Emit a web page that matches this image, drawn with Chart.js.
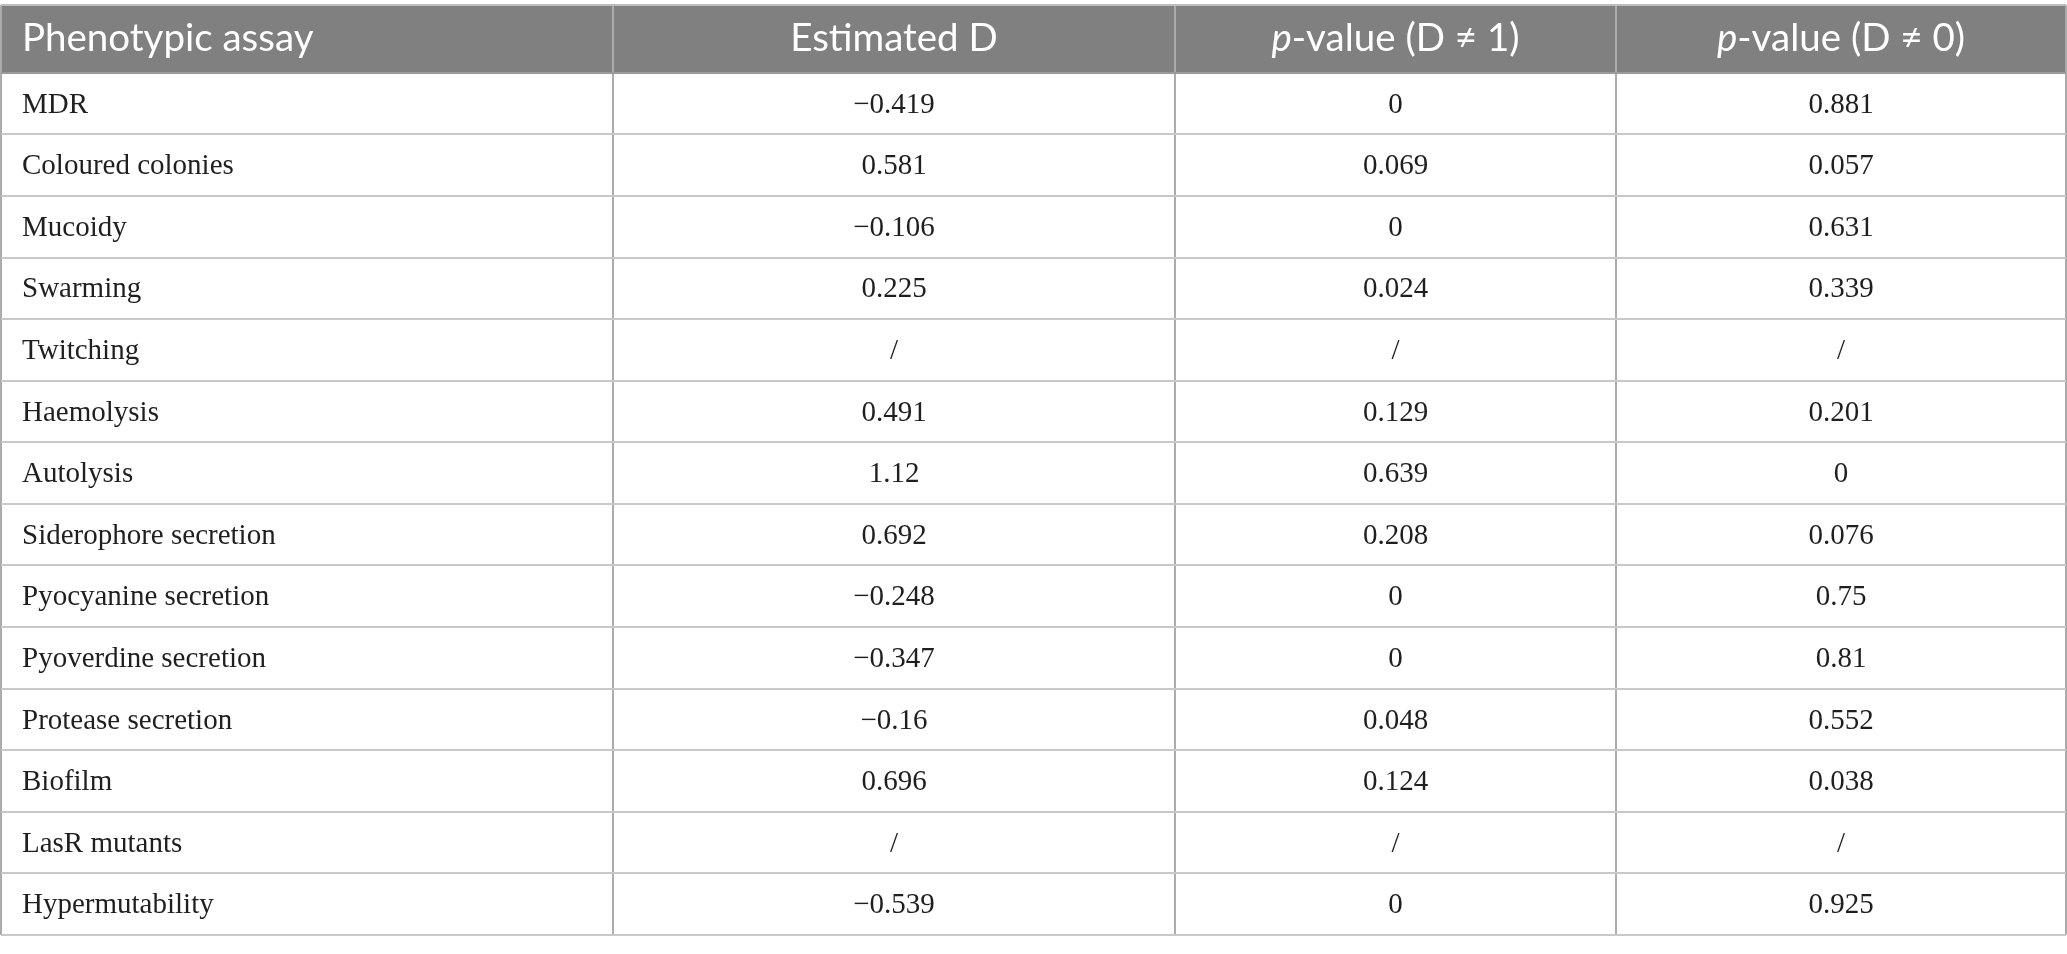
<!DOCTYPE html>
<html>
<head>
<meta charset="utf-8">
<script src="https://cdn.jsdelivr.net/npm/chart.js@4.4.1/dist/chart.umd.min.js"></script>
<style>
html,body{margin:0;padding:0;background:#fff;}
canvas{display:block;}
</style>
</head>
<body>
<canvas id="c" width="2067" height="954"></canvas>
<script>
// ---- data ----
const headers = [
  [{t:'Phenotypic assay'}],
  [{t:'Estimated D'}],
  [{t:'p', i:true},{t:'-value (D \u2260 1)'}],
  [{t:'p', i:true},{t:'-value (D \u2260 0)'}]
];
const assays = ['MDR','Coloured colonies','Mucoidy','Swarming','Twitching','Haemolysis','Autolysis',
  'Siderophore secretion','Pyocyanine secretion','Pyoverdine secretion','Protease secretion','Biofilm',
  'LasR mutants','Hypermutability'];
const estimatedD = ['\u22120.419','0.581','\u22120.106','0.225','/','0.491','1.12','0.692','\u22120.248',
  '\u22120.347','\u22120.16','0.696','/','\u22120.539'];
const pValueD1 = ['0','0.069','0','0.024','/','0.129','0.639','0.208','0','0','0.048','0.124','/','0'];
const pValueD0 = ['0.881','0.057','0.631','0.339','/','0.201','0','0.076','0.75','0.81','0.552','0.038','/','0.925'];

// ---- layout (column edges in table units, header height in row units) ----
const colEdges = [0, 612, 1174, 1615, 2065];
const headerRows = 1.1;
const columns = [assays, estimatedD, pValueD1, pValueD0];
const align = ['left','center','center','center'];

function colX(c){ return align[c]==='left' ? colEdges[c] : (colEdges[c]+colEdges[c+1])/2; }

const datasets = columns.map((col, c) => ({
  label: 'col'+c,
  data: col.map((v, r) => ({x: colX(c), y: r + 0.5})),
  texts: col,
  pointRadius: 0,
  showLine: false
}));
datasets.push({
  label: 'header',
  data: headers.map((h, c) => ({x: colX(c), y: -headerRows/2})),
  texts: headers,
  isHeader: true,
  pointRadius: 0,
  showLine: false
});

const HEADER_FONT = '"Lato", "Open Sans", sans-serif';
const BODY_FONT = '"Liberation Serif", "DejaVu Serif", serif';

const tablePlugin = {
  id: 'tablePlugin',
  beforeDraw(chart){
    const {ctx, scales:{x, y}} = chart;
    ctx.save();
    ctx.fillStyle = '#808080';
    const top = y.getPixelForValue(-headerRows), bot = y.getPixelForValue(0);
    const l = x.getPixelForValue(colEdges[0]), r = x.getPixelForValue(colEdges[colEdges.length-1]);
    ctx.fillRect(l, top, r-l, bot-top);
    ctx.restore();
  },
  afterDatasetsDraw(chart){
    const {ctx} = chart;
    ctx.save();
    ctx.textBaseline = 'middle';
    chart.data.datasets.forEach((ds, di) => {
      const meta = chart.getDatasetMeta(di);
      meta.data.forEach((pt, j) => {
        const c = ds.isHeader ? j : di;
        const al = align[c];
        const px = pt.x + (al==='left' ? 21 : 0);
        const py = pt.y;
        if (ds.isHeader){
          ctx.fillStyle = '#ffffff';
          const parts = ds.texts[j];
          const fonts = parts.map(p => (p.i ? 'italic ' : '') + '38.5px ' + HEADER_FONT);
          let w = 0;
          parts.forEach((p, k) => { ctx.font = fonts[k]; w += ctx.measureText(p.t).width; });
          let sx = al==='left' ? px : px - w/2;
          ctx.textAlign = 'left';
          parts.forEach((p, k) => { ctx.font = fonts[k]; ctx.fillText(p.t, sx, py); sx += ctx.measureText(p.t).width; });
        } else {
          ctx.fillStyle = '#1f1f1f';
          ctx.font = '29px ' + BODY_FONT;
          ctx.textAlign = al;
          ctx.fillText(ds.texts[j], px, py+1.5);
        }
      });
    });
    ctx.restore();
  }
};

const yTicks = [-headerRows].concat(assays.map((_, i) => i)).concat([assays.length]);

new Chart(document.getElementById('c'), {
  type: 'scatter',
  data: { datasets },
  options: {
    responsive: false,
    animation: false,
    devicePixelRatio: 1,
    layout: { padding: { left: 1, right: 1, top: 5, bottom: 19 } },
    plugins: { legend: { display: false }, tooltip: { enabled: false } },
    events: [],
    scales: {
      x: {
        type: 'linear', min: colEdges[0], max: colEdges[colEdges.length-1],
        afterBuildTicks: s => { s.ticks = colEdges.map(v => ({value: v})); },
        ticks: { display: false },
        border: { display: false },
        grid: { drawTicks: false, color: '#ababab', lineWidth: 2 }
      },
      y: {
        type: 'linear', min: -headerRows, max: assays.length, reverse: true,
        afterBuildTicks: s => { s.ticks = yTicks.map(v => ({value: v})); },
        ticks: { display: false },
        border: { display: false },
        grid: { drawTicks: false, lineWidth: 2,
          color: ctx => ctx.tick && ctx.tick.value === -headerRows ? '#bdbdbd' : (ctx.tick && ctx.tick.value === 0 ? '#9a9a9a' : '#c8c8c8') }
      }
    }
  },
  plugins: [tablePlugin]
});
</script>
</body>
</html>
